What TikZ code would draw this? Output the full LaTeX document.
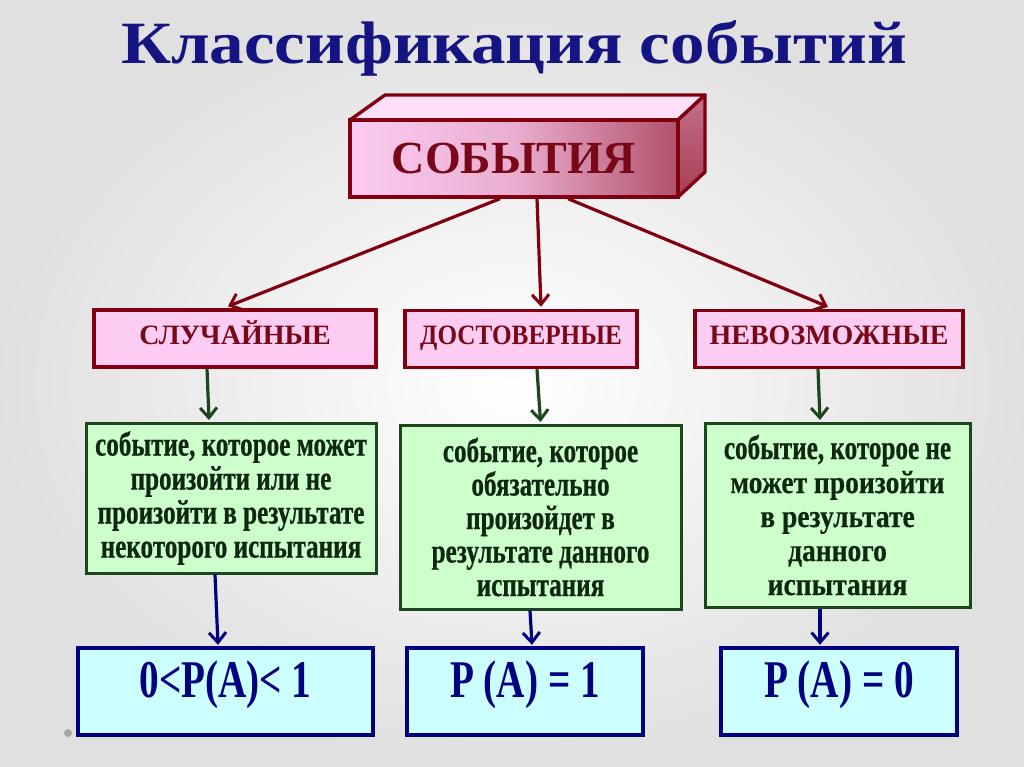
\documentclass[tikz,border=0pt]{standalone}
\usepackage{fontspec}
\setmainfont{Liberation Serif}
\newfontfamily\titlefont[FakeStretch=1.15]{Liberation Serif}
\newfontfamily\condA[FakeStretch=0.74,FakeBold=0.6]{Liberation Serif}
\newfontfamily\condB[FakeStretch=0.86,FakeBold=0.4]{Liberation Serif}
\newfontfamily\condC[FakeStretch=0.74]{Liberation Serif}
\newfontfamily\condD[FakeStretch=0.9]{Liberation Serif}
\usetikzlibrary{arrows.meta,calc}
\definecolor{bordred}{RGB}{128,0,16}
\definecolor{txtred}{RGB}{120,8,24}
\definecolor{pinkfill}{RGB}{252,204,242}
\definecolor{greenfill}{RGB}{204,255,204}
\definecolor{bordgreen}{RGB}{30,70,30}
\definecolor{txtgreen}{RGB}{15,40,15}
\definecolor{cyanfill}{RGB}{204,255,255}
\definecolor{navy}{RGB}{0,0,128}
\definecolor{titleblue}{RGB}{20,20,130}
\tikzset{
  pinkbox/.style={draw=bordred, line width=3.4pt, fill=pinkfill, minimum width=#1, minimum height=57pt, inner sep=0pt,
    font=\bfseries\fontsize{28}{32}\selectfont, text=txtred, text height=17pt, text depth=6pt},
  greenbox/.style={draw=bordgreen, line width=3pt, fill=greenfill, inner sep=0pt, align=center, text=txtgreen},
  bluebox/.style={draw=navy, line width=3.4pt, fill=cyanfill, minimum height=87pt, minimum width=#1, inner sep=0pt},
  bluetxt/.style={text=navy, font=\condC\bfseries\fontsize{53}{56}\selectfont, inner sep=0pt},
  arrtip/.style={-{Straight Barb[length=10pt,width=17pt,line width=3pt]}},
  redarr/.style={draw=bordred, line width=3.2pt, arrtip},
  greenarr/.style={draw=bordgreen, line width=3.2pt, arrtip},
  bluearr/.style={draw=navy, line width=3.2pt, arrtip},
}
\begin{document}
\begin{tikzpicture}[x=1pt,y=-1pt]
\useasboundingbox (0,0) rectangle (1024,767);
\shade[inner color=white, outer color=black!12] (0,0) rectangle (1024,767);
\fill[black!35] (68,733) circle (4pt);
% title
\node (title) [text=titleblue, font=\titlefont\bfseries\fontsize{60}{66}\selectfont] at (514,48) {Классификация событий};
% 3D box
\fill[pinkfill!60!white, draw=bordred, line width=3.4pt, line join=round] (350,120) -- (385,95) -- (705,95) -- (678,120) -- cycle;
\shade[top color=bordred!45!pinkfill, bottom color=bordred!70!pinkfill] (678,120) -- (705,95) -- (705,172) -- (678,197) -- cycle;
\draw[draw=bordred, line width=3.4pt, line join=round] (678,120) -- (705,95) -- (705,172) -- (678,197) -- cycle;
\node (ev) [draw=bordred, line width=3.4pt, left color=pinkfill, right color=bordred!60!pinkfill, middle color=pinkfill!85!bordred,
  minimum width=328pt, minimum height=77pt, inner sep=0pt, text=txtred, font=\bfseries\fontsize{46}{50}\selectfont] at (514,158.5) {СОБЫТИЯ};
% pink boxes
\node (c1) [pinkbox=282pt] at (235,338.5) {СЛУЧАЙНЫЕ};
\node (c2) [pinkbox=232pt, font=\condD\bfseries\fontsize{28}{32}\selectfont] at (521,339) {ДОСТОВЕРНЫЕ};
\node (c3) [pinkbox=268pt] at (829,339) {НЕВОЗМОЖНЫЕ};
% green boxes
\node (g1) [greenbox, minimum width=290pt, minimum height=150pt, font=\condA\bfseries\fontsize{34}{34}\selectfont] at (231,498)
  {событие, которое может\\произойти или не\\произойти в результате\\некоторого испытания};
\node (g2) [greenbox, minimum width=281pt, minimum height=184pt, font=\condA\bfseries\fontsize{34}{33.5}\selectfont] at (540.5,517)
  {событие, которое\\обязательно\\произойдет в\\результате данного\\испытания};
\node (g3) [greenbox, minimum width=265pt, minimum height=184pt, font=\condB\bfseries\fontsize{32}{34}\selectfont] at (837.5,515)
  {{\condA\bfseries\fontsize{34}{34}\selectfont событие, которое не}\\может произойти\\в результате\\данного\\испытания};
% blue boxes
\node (b1) [bluebox=295pt] at (225.5,691.5) {};
\node (b2) [bluebox=236pt] at (525,691.5) {};
\node (b3) [bluebox=236pt] at (839,691.5) {};
\node (t1) [bluetxt] at ([yshift=-38pt]b1.north) {0<P(A)< 1};
\node (t2) [bluetxt] at ([yshift=-38pt]b2.north) {P (A) = 1};
\node (t3) [bluetxt] at ([yshift=-38pt]b3.north) {P (A) = 0};
% arrows
\draw[redarr] ([xshift=-14pt]ev.south) -- ([xshift=-7pt,yshift=2pt]c1.north);
\draw[redarr] ([xshift=23pt]ev.south) -- ([xshift=20pt,yshift=2pt]c2.north);
\draw[redarr] ([xshift=54pt]ev.south) -- ([xshift=-1pt,yshift=2pt]c3.north);
\draw[greenarr] ([xshift=-28pt]c1.south) -- ([xshift=-22pt,yshift=1.5pt]g1.north);
\draw[greenarr] ([xshift=16pt]c2.south) -- ([xshift=0pt,yshift=1.5pt]g2.north);
\draw[greenarr] ([xshift=-11pt]c3.south) -- ([xshift=-17.5pt,yshift=1.5pt]g3.north);
\draw[bluearr] ([xshift=-16pt]g1.south) -- ([xshift=-7.5pt,yshift=1.5pt]b1.north);
\draw[bluearr] ([xshift=-10.5pt]g2.south) -- ([xshift=7pt,yshift=1.5pt]b2.north);
\draw[bluearr] ([xshift=-17.5pt]g3.south) -- ([xshift=-19pt,yshift=1.5pt]b3.north);
\end{tikzpicture}
\end{document}
